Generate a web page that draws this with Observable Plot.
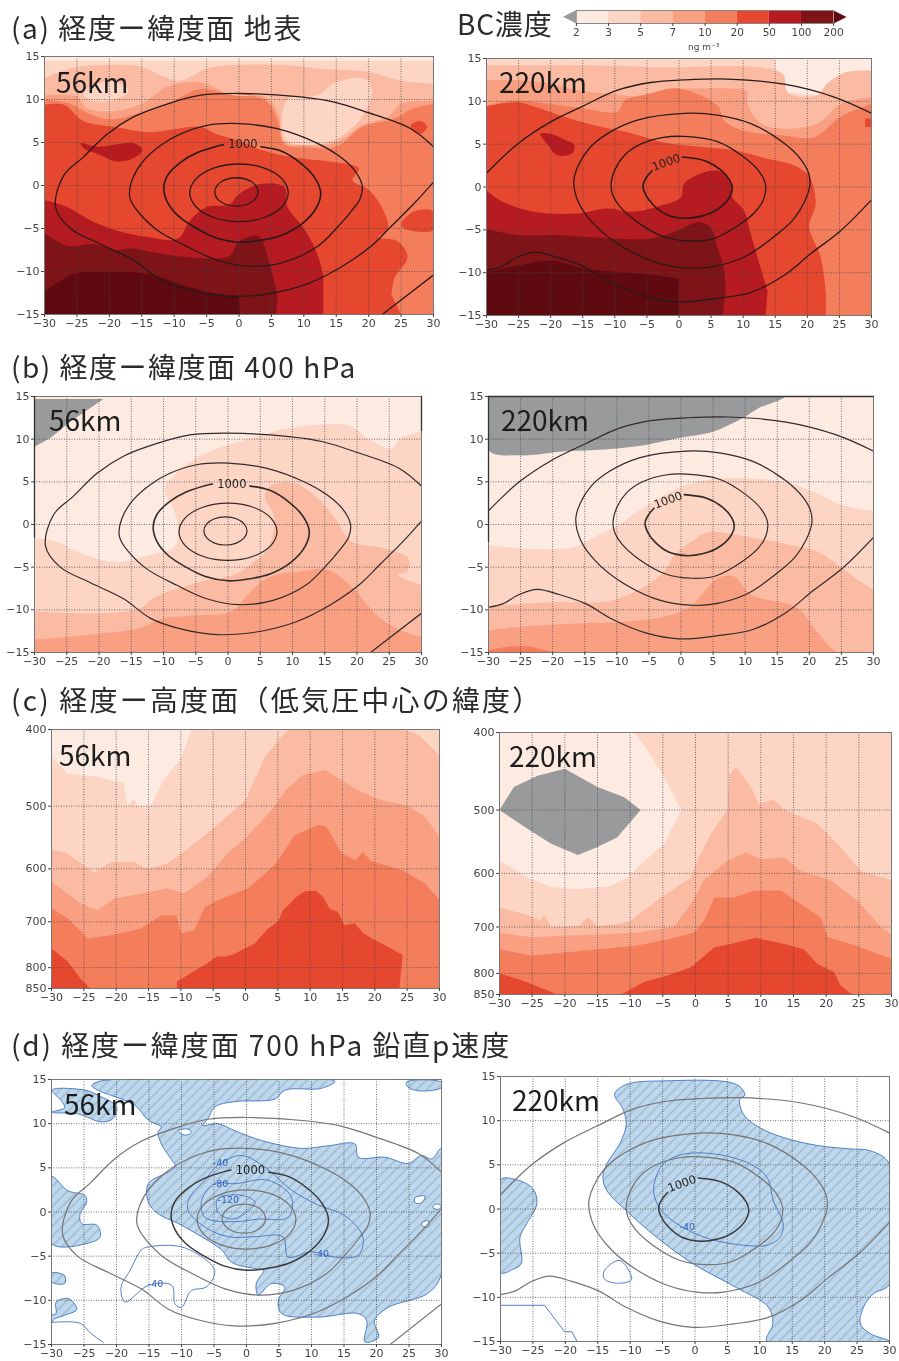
<!DOCTYPE html>
<html lang="ja"><head><meta charset="utf-8">
<script src="https://cdn.jsdelivr.net/npm/d3@7"></script>
<script src="https://cdn.jsdelivr.net/npm/@observablehq/plot@0.6"></script>
<style>
html,body{margin:0;padding:0;background:#fff}
#page{position:relative;width:899px;height:1361px;overflow:hidden;filter:blur(0.5px)}
#page>div.p{position:absolute}
.t{position:absolute;white-space:pre;font-family:"Noto Sans CJK JP";font-size:28px;color:#2b2b2b;line-height:32px}
.n{position:absolute;white-space:pre;font-family:"Noto Sans CJK JP";font-size:28px;color:#1c1c1c;line-height:32px}
svg{display:block}
</style></head><body>
<svg width="0" height="0" style="position:absolute"><defs>
<pattern id="hatch" patternUnits="userSpaceOnUse" width="7" height="7" patternTransform="rotate(45)">
<rect width="7" height="7" fill="#bcd8ef"/><line x1="1" y1="0" x2="1" y2="7" stroke="#9dadb9" stroke-width="1.1"/></pattern>
</defs></svg>
<div id="page"></div>
<script>
/* colour levels */
const levelGray="#999a9b",level2="#fdebe2",level3="#fdd5c5",level5="#fbbba2",level7="#f9a083",level10="#f47e5c",level20="#e5472f",level50="#b61b21",level100="#7e1418",level200="#5e0a10";
const cbLabels=["2","3","5","7","10","20","50","100","200"];
const cbColors=[level2,level3,level5,level7,level10,level20,level50,level100];

/* sea-level pressure contours, 56 km */
const ring56a=[[2.95,-.75],[2.5,.08],[1.3,.68],[-.4,.9],[-2.1,.68],[-3.3,.08],[-3.75,-.75],[-3.3,-1.58],[-2.1,-2.18],[-.4,-2.4],[1.3,-2.18],[2.5,-1.58]];
const ring56b=[[7.6,-.85],[6.6,.8],[3.8,2.05],[0,2.5],[-3.8,2.05],[-6.6,.8],[-7.6,-.85],[-6.6,-2.5],[-3.8,-3.75],[0,-4.2],[3.8,-3.75],[6.6,-2.5]];
const ring56c=[[3.4,4.5],[6.5,4],[9.5,2.6],[11.6,1],[12.6,-.8],[12,-2.5],[9.8,-4.4],[6.5,-5.8],[3,-6.4],[0,-6.6],[-3.5,-6.1],[-6.5,-5],[-9.3,-3.6],[-11,-2],[-11.6,-.4],[-11,1.2],[-9,2.7],[-6.5,3.8],[-3.3,4.6],[-2.4,4.75]];
const ring56d=[[-16.9,-1.1],[-16.4,.8],[-14.8,2.8],[-12,4.7],[-9,6],[-4.9,7],[0,7.2],[5.9,6.6],[12.1,4.9],[15.5,3.4],[17.8,1.8],[19,0],[18.7,-1.5],[17.3,-3],[15,-5],[12.1,-7.1],[7,-8.9],[1.8,-9.4],[-3.3,-8.7],[-8,-7.1],[-12.6,-5.2],[-15.4,-3.2],[-16.6,-1.9]];
const ring56e=[[30,4.5],[26.5,6.6],[19.8,8.5],[14.7,9.7],[9.5,10.3],[0,10.7],[-5.9,10.5],[-11,9.5],[-16.2,8],[-20.3,6],[-24,3.3],[-27,1.2],[-28.3,-2.5],[-26,-5],[-21.4,-6.8],[-16.2,-8.7],[-12,-11],[-7.5,-12.2],[-1.8,-12.9],[4.4,-12.6],[10.6,-11.4],[15.7,-9.5],[20.3,-7.1],[23.4,-4.8],[27,-2.1],[30,.4]];
const ring56f=[[22.1,-15],[30,-10.4]];
/* sea-level pressure contours, 220 km */
const ring220a=[[.5,3.5],[3.9,3.1],[6.5,2],[7.9,.8],[8.3,-.2],[7.7,-1.4],[5.8,-2.7],[3.5,-3.4],[.8,-3.65],[-2,-3.2],[-4,-2.1],[-5.2,-.9],[-5.6,.2],[-5,1.2],[-4.2,1.9]];
const ring220b=[[-10.6,.2],[-10,2],[-8.5,3.7],[-6,5],[-2.4,5.8],[.8,5.9],[6,5.3],[10.1,3.5],[12.5,1.8],[13.5,.2],[13.2,-1.4],[12,-2.8],[9.6,-4.3],[5.5,-6],[1.8,-6.3],[-2.4,-5.8],[-6.5,-4.1],[-9.2,-2.3],[-10.3,-1]];
const ring220c=[[-16.4,.6],[-15.7,2.5],[-14,4.5],[-11.2,6.2],[-6.5,7.8],[.8,8.6],[6,8.4],[11.2,7.4],[16.4,5.1],[19,3.2],[20.2,1.6],[20.4,.2],[19.5,-1.8],[17.8,-3.8],[15.3,-5.5],[10.1,-8.2],[4.4,-9.4],[.3,-9.4],[-4.4,-8.6],[-9.6,-6.6],[-13.3,-4.3],[-15.6,-1.9]];
const ring220d=[[-30,1.6],[-25.2,5],[-20,7.6],[-14.8,9.5],[-9.6,11.3],[-4.4,12.2],[.8,12.5],[7.5,12.6],[16.4,12],[24.2,10.5],[30,8.6]];
const ring220e=[[-30,-9.7],[-27.8,-9.3],[-25.2,-8.2],[-22.4,-7.6],[-19,-8.2],[-14.8,-9.3],[-10.7,-11.1],[-5.5,-12.7],[-.3,-13.4],[6,-13],[11.2,-12.3],[16.4,-10.3],[20.5,-7.8],[25.2,-5.1],[30,-1.5]];

/* (a) 56 km bands */
const fullLat=[[-30,15],[30,15],[30,-15],[-30,-15]];
const topStrip=[[-30,15],[30,15],[30,14.5],[-30,14.5]];
const a56_5=[[-30,12.5],[-26,13.6],[-21,14],[-15,13.8],[-12,12.8],[-9,12.2],[-5,13.6],[-1,14],[7,14],[12,13.6],[20,13.2],[25,12.2],[30,11.8],[30,-15],[-30,-15]];
const a56_lightA=[[-24,10.5],[-23,11.5],[-19,12],[-17,11],[-19,10],[-22,9.8]];
const a56_lightB=[[7.5,10],[12,10.5],[15,12],[19.5,12.4],[20.5,11],[19,8],[15,5.4],[10,4.7],[7,5.5]];
const a56_7=[[-30,10.5],[-25,10.3],[-23.5,9],[-20,8.6],[-15,9.5],[-11,11.5],[-6,12],[-1,10.5],[4,10.3],[6,8.5],[7,5],[10,4.7],[15,5],[19,7],[23,8],[25,9.5],[30,9.8],[30,-15],[-30,-15]];
const a56_10=[[-30,10],[-26,9.5],[-23,8.3],[-20,7.7],[-15,8.5],[-11,9.5],[-6,11.2],[-1,10.5],[4,10],[6,7.5],[7,4.8],[10,4.5],[15,4.5],[19,6.8],[24,7.8],[27,9],[30,9.5],[30,-15],[-30,-15]];
const a56_20=[[-30,9.4],[-27,9.4],[-24,7.5],[-19,6.8],[-14,6.2],[-6,6.8],[-3.5,6],[0,5.2],[4,4],[9,3.2],[14,2.8],[18.5,2],[17.5,.6],[20,-.5],[22,-2.5],[23,-5],[21.5,-6],[24.5,-6.5],[26,-8.3],[24,-10.7],[23.5,-12.7],[25,-15],[-30,-15]];
const a56_20b=[[30,-3],[27,-3],[25,-4.5],[25.5,-5],[30,-5.2]];
const a56_20c=[[26.5,7],[28,7.5],[29,6.8],[28,6],[27,6.2]];
const a56_50=[[-30,-1.7],[-26.5,-2.5],[-23,-4],[-19,-5.2],[-14,-6],[-9.5,-6.2],[-7.5,-4],[-5,-2.5],[-1.5,-2.2],[0,-1],[3.5,.2],[7,-.2],[7.5,-2.5],[10,-5],[12,-7.8],[13,-10.5],[13,-15],[-30,-15]];
const a56_50b=[[-24.4,4.9],[-21.9,4.5],[-16.2,4.9],[-14.9,4.1],[-16.2,3.2],[-18.8,2.8],[-21.9,3.7],[-23.9,4.3]];
const a56_100=[[-30,-5.5],[-26.5,-7],[-22.5,-6.8],[-19,-7.5],[-17,-7.3],[-11.5,-8],[-6.5,-8.4],[-1.5,-8.2],[0,-6.5],[3,-5.9],[4.7,-9],[6,-13],[5.7,-15],[-30,-15]];
const a56_200=[[-30,-12.4],[-25.5,-10.3],[-21.5,-10],[-14,-10.3],[-9,-11.5],[-4,-12.5],[0,-12.8],[.2,-15],[-30,-15]];
/* (a) 220 km bands */
const a220_light=[[15,15],[15,13.5],[17,11],[21.6,10.7],[23,12],[26,13.4],[30,13.6],[30,15]];
const a220_5=[[-30,14.2],[-15,14.2],[-4.4,14],[16,13.3],[17,11],[21.6,10.7],[23,12],[26,13.4],[30,13.6],[30,-15],[-30,-15]];
const a220_7=[[-30,12.5],[-22,12.3],[-15,11.2],[-10,10.8],[-7.5,10.6],[-4,11],[0,11.5],[3,11.5],[8,11.5],[10.5,11.2],[10.7,9.7],[12.8,7.4],[16.4,6.8],[21.6,7.4],[25.2,9.7],[30,10.5],[30,-15],[-30,-15]];
const a220_10=[[-30,9.5],[-25.7,10.1],[-20,9.7],[-15,9.2],[-9.6,8.8],[-8.5,10.1],[-5.4,10.7],[-.3,11.5],[6,9.5],[7,7.8],[10,6.6],[16.4,6],[21,5.8],[25.2,8.2],[30,9.7],[30,-15],[-30,-15]];
const a220_20=[[-30,9.4],[-25.2,9.9],[-22.6,9.4],[-17.9,8.2],[-13.2,7.2],[-7,6.2],[-1.8,5.1],[3.4,4.7],[8.6,4.3],[13.8,3.3],[18,2.5],[20.3,1.2],[21.3,-1.9],[20.3,-4.7],[22.1,-8.2],[22.9,-12.5],[22.9,-15],[-30,-15]];
const a220_20b=[[29,8],[30,8],[30,7],[29,7]];
const a220_50=[[-30,-.4],[-27.8,-1.6],[-22.6,-2.9],[-15.9,-3.1],[-11.2,-2.5],[-7.5,-2.9],[-3.4,-2.3],[.3,-1.2],[.8,.4],[4.4,1.8],[6.5,1.8],[8,.4],[8.3,-1.2],[10.1,-2.7],[11.2,-5.5],[12.7,-9.4],[13.8,-12.1],[13.5,-15],[-30,-15]];
const a220_50b=[[-21.6,6.2],[-20,6.2],[-17.7,5.5],[-16.3,4.9],[-16.7,3.9],[-19,3.7],[-20.5,5]];
const a220_100=[[-30,-4.9],[-25.2,-5.6],[-19,-5.6],[-10.6,-6],[-4.4,-6],[-.3,-5.1],[3.1,-4.1],[4.9,-4.7],[6,-7],[7,-9.4],[7.3,-12.1],[6.8,-15],[-30,-15]];
const a220_200=[[-30,-9.9],[-25.2,-9.2],[-20,-8.6],[-14.8,-9.5],[-9.6,-9.9],[-3.4,-10.3],[0,-10.7],[0,-15],[-30,-15]];
/* (b) 56 km bands */
const b56_gray=[[-30,14.7],[-19.3,14.7],[-24.2,12.2],[-27.6,10.1],[-30,9.1]];
const b56_3=[[-30,-1.6],[-26.5,-2],[-22.8,-3.4],[-17.2,-4.4],[-12.4,-3.6],[-8.3,-2.6],[-7.8,-.1],[-8.5,1.9],[-9.8,4.2],[-8.3,5.8],[-5.2,7.7],[-1.6,8.9],[3.6,10.1],[8.8,11.2],[18.6,11.6],[21.7,10.1],[25.3,8.9],[26.8,10.1],[30,10.9],[30,-15],[-30,-15]];
const b56_5=[[-30,-10.2],[-19.8,-10.4],[-13.6,-9.8],[-11.6,-8.6],[-4.2,-6.7],[1,-5.9],[4,-4.4],[6.2,-2.8],[7.2,.7],[5.7,3.4],[6.7,4.6],[10.4,4.8],[14,3],[16.6,.7],[19.2,-2],[24.3,-2.8],[28,-4],[27.8,-5.5],[26.3,-5.9],[30,-7.1],[30,-15],[-30,-15]];
const b56_7=[[-30,-13.5],[-24,-13.1],[-13.6,-12.1],[-10.5,-11.1],[-6.4,-10.7],[.5,-10.2],[3.1,-8.2],[6.2,-6.2],[11.4,-5.5],[15.5,-5.3],[19.2,-7.3],[23.3,-10.8],[26.8,-12.4],[30,-13.2],[30,-15],[-30,-15]];
const b56_spineL=[[-30,15],[-30,-1.5]];
const b56_spineR=[[30,15],[30,11]];
/* (b) 220 km bands */
const b220_gray=[[-30,15],[16.1,15],[12,13.6],[9.9,12.6],[7.3,11.6],[4.7,10.8],[-.5,10.1],[-5.7,9.3],[-12,8.8],[-17.7,8.6],[-25,8.1],[-30,8.7]];
const b220_3=[[-30,-2.4],[-22.9,-2.9],[-16.6,-2.6],[-13,-1.3],[-9.4,.1],[-6.8,1.5],[-3.6,3],[.5,4.6],[5.7,5.4],[10.9,5.4],[16.1,5],[20.8,3.8],[25,2.3],[30,1.6],[30,-15],[-30,-15]];
const b220_5=[[-30,-9.6],[-20.3,-9.1],[-16.1,-9.1],[-10.9,-8.9],[-5.7,-7.3],[-2.6,-5.5],[-1,-3.6],[1.6,-2],[4.2,-.9],[9.9,-1.4],[17.2,-2.4],[21.4,-3.2],[26.5,-5.9],[30,-7.7],[30,-15],[-30,-15]];
const b220_7=[[-30,-12.4],[-25.5,-12],[-16.1,-11.6],[-8.8,-11.4],[-1.6,-10.6],[1.6,-9.5],[5.7,-6.3],[8.3,-6.1],[10.9,-8.2],[18.2,-9.8],[20.8,-12.2],[22.9,-14.1],[24.2,-15],[-30,-15]];
const b220_10=[[-30,-14.7],[-26.5,-14.3],[-23.4,-14.3],[-19.8,-15],[-30,-15]];
const b220_spineT=[[-30,15],[30,15]];
const b220_spineL=[[-30,15],[-30,-2]];
/* (c) 56 km bands: longitude, pressure */
const fullP=[[-30,400],[30,400],[30,850],[-30,850]];
const c56_3=[[-30,433],[-27.5,455],[-23.4,458],[-18.8,468],[-18.3,500],[-17.2,489],[-16.7,500],[-14.7,500],[-12.6,462],[-10.1,437],[-8.5,403],[-8.5,400],[30,400],[30,850],[-30,850]];
const c56_5=[[-30,567],[-27.5,574],[-23.4,607],[-20.8,588],[-17.2,588],[-15.1,601],[-12,590],[-9.9,574],[-4.7,531],[0,491],[3,433],[5.6,408],[6.7,400],[24.7,400],[27,408],[30,431],[30,850],[-30,850]];
const c56_7=[[-30,623],[-25.5,663],[-22.9,677],[-20.3,654],[-15.7,644],[-12,635],[-9.5,644],[-5.9,614],[-2.8,574],[0,549],[4,506],[6.2,477],[8.8,457],[12.3,450],[16.5,473],[20.1,489],[25.2,500],[27.8,516],[30,547],[30,850],[-30,850]];
const c56_10=[[-30,673],[-27.5,693],[-24.4,735],[-20.3,727],[-16.2,714],[-13,687],[-10.7,687],[-9.9,724],[-7.9,717],[-6.3,670],[-4.2,657],[.4,635],[4.5,594],[7.6,544],[11.2,528],[12.5,530],[14.9,574],[17,585],[18.2,571],[19.3,586],[24.2,602],[27.8,626],[30,657],[30,850],[-30,850]];
const c56_20=[[-10.6,850],[-10.6,833],[-5.9,790],[-4.4,774],[-3.2,775],[-1.6,768],[-.1,756],[1.4,746],[3.5,714],[5,700],[5.8,677],[6.6,667],[7.9,651],[9.1,641],[10.9,639],[12,651],[13,674],[14.3,680],[15.3,707],[16.9,703],[18.2,724],[20,738],[22,753],[24.3,771],[23.8,850]];
const c56_20b=[[-30,756],[-27.5,786],[-25.5,826],[-24,850],[-30,850]];
/* (c) 220 km bands */
const c220_gray=[[-30,500],[-27.8,468],[-24.2,453],[-20,444],[-15,468],[-10.9,482],[-8.4,500],[-12,541],[-15,556],[-18,569],[-22.1,551],[-25.2,531]];
const c220_3=[[-9.4,400],[-7.3,422],[-4.8,455],[-2.2,500],[-4.8,551],[-8.9,590],[-10.4,607],[-13,622],[-18,628],[-22.1,624],[-25.7,607],[-30,578],[-30,850],[30,850],[30,400]];
const c220_5=[[-30,662],[-25.7,676],[-23.7,687],[-23.2,676],[-22.1,700],[-17.8,698],[-16.5,680],[-15,698],[-11.9,694],[-9.9,687],[-5.3,643],[-.7,607],[.3,578],[2.3,536],[4.9,500],[5.2,451],[6.2,442],[8.5,468],[9.7,491],[12,485],[13.6,500],[18.7,520],[22.2,556],[25.3,596],[30,612],[30,850],[-30,850]];
const c220_7=[[-30,711],[-25.2,721],[-20,718],[-15,715],[-8.9,711],[-3.3,700],[-.7,655],[1.3,612],[4.9,578],[7.7,565],[10,576],[13.6,573],[16.1,596],[20.7,612],[24.8,649],[28.4,700],[30,715],[30,850],[-30,850]];
const c220_10=[[-30,746],[-25.2,760],[-20,753],[-15,746],[-8.9,738],[-3.8,724],[-.2,711],[1.3,687],[2.9,643],[5.9,643],[9,630],[13.1,630],[16.1,655],[19.2,681],[20.2,721],[23.8,735],[30,767],[30,850],[-30,850]];
const c220_20=[[-11.4,850],[-7.9,820],[-4.3,805],[-.7,786],[2.9,742],[5.4,735],[9.2,722],[13.6,735],[16.6,746],[18.7,779],[21.2,797],[22.2,828],[24,850]];
const c220_20b=[[-30,800],[-27.2,813],[-25.2,824],[-21.1,850],[-30,850]];
/* (d) 56 km omega areas */
const d56_main=[[-23.8,14.3],[-22.6,14.8],[13.6,14.8],[11.5,14],[5.9,13.8],[4.4,12.8],[-1.8,12.5],[-4.9,11.9],[-5.9,10.6],[-6.7,9.8],[-4.4,10],[-1.8,9.2],[2.3,8.1],[8.5,7.2],[12.6,7.5],[16.7,7.7],[17.2,6.2],[21.3,6.2],[24.9,5.5],[26.9,6.4],[28.5,6],[30,7.2],[30,-7],[27.9,-9.2],[21.8,-10.8],[19.7,-12.3],[20.3,-14.2],[18.2,-14.7],[18.5,-12.3],[17.2,-11.5],[11,-11.9],[5.4,-11.5],[4.9,-10],[5.9,-8.5],[3.8,-8.1],[1.8,-9.4],[1.5,-8.1],[2.6,-6.6],[1.3,-6.4],[-2.3,-5.7],[-3.8,-4.3],[-6.9,-2.8],[-10.5,-1.3],[-13.6,-.2],[-15.1,1.1],[-15.1,3.2],[-11,5.1],[-11.8,6.2],[-13.1,7.7],[-13.6,9.1],[-13.1,9.6],[-15.1,10.4],[-17.2,12.1],[-20.8,13.2],[-22.3,13.6]];
const d56_topLeft=[[-29.9,13.8],[-24.9,13.8],[-22.8,13.2],[-20,11.9],[-20.5,10.6],[-22.3,10.2],[-25.9,11.1],[-30,11.3],[-28,11.8],[-28.5,12.6]];
const d56_left=[[-30,4],[-27.5,2.4],[-24.9,1.9],[-24.6,1.1],[-25.6,-.2],[-25.4,-1.3],[-23,-1.5],[-22.5,-2.8],[-23.8,-3.4],[-30,-3.6]];
const d56_small=[[-30,-6.9],[-28,-7.2],[-28,-8.1],[-30,-7.9]];
const d56_blob=[[-29.3,-10.2],[-27.4,-9.8],[-26.1,-11],[-28,-11.7],[-29.5,-12.1],[-30,-12.5],[-30,-11.7],[-29.3,-11.5]];
const d56_topRight=[[24.6,14.7],[30,14.7],[30,14.1],[26.9,13.7],[24.9,14.1]];
const d56_holeA=[[-10.5,9.2],[-9,9.4],[-8.5,9],[-9.5,8.7]];
const d56_holeB=[[25.9,1.6],[27.5,1.8],[27,1.1],[26,1]];
const d56_holeC=[[29,.9],[30,.7],[29.5,.3],[28.7,.5]];
const d56_holeD=[[27,-1.2],[28,-1],[28,-1.6],[27,-1.6]];
const d56_loop=[[-15.4,-4],[-9.7,-4],[-4.9,-6.6],[-6.2,-8.5],[-8.5,-8.9],[-10,-10.8],[-11,-10.4],[-11.5,-8.3],[-15.1,-8.3],[-18.7,-10.2],[-19.3,-8.5],[-17.9,-6.6],[-16.2,-4.3]];
const d56_tail=[[-30,-12.5],[-25.6,-12.6],[-24,-13.7],[-22,-14.8]];
const d56_m40=[[-9,.2],[-8.7,1.7],[-6.4,3.6],[-4.4,5.3],[-.8,6.4],[2.8,5.1],[6.9,2.5],[11,.8],[15.1,-.4],[17.9,-2.8],[17.2,-4.9],[13.6,-5.1],[10,-4.5],[6.4,-5.1],[5.6,-2.8],[1.3,-2.8],[-2.8,-2.8],[-6.4,-1.7]];
const d56_m80=[[-4.9,3.2],[-1.8,3.2],[3.3,3.6],[6.9,1.7],[6.4,-.6],[1.8,-.8],[-1.8,-1.1],[-6.4,-.6],[-6.9,1.3]];
const d56_m120=[[-4.4,1.5],[-.8,1.9],[1.3,1.1],[-.3,-.2],[-2.3,-.8],[-4.4,0]];
const d56_labels=[{x:-4,y:5.6,t:"-40"},{x:-4,y:3.2,t:"-80"},{x:-2.8,y:1.4,t:"-120"},{x:11.5,y:-4.7,t:"-40"},{x:-14,y:-8.2,t:"-40"}];
/* (d) 220 km omega areas */
const d220_main=[[-12.4,13],[-10.6,14.1],[-4.9,14.5],[6.4,14.1],[7.7,12.9],[6.9,12.4],[7.5,10.7],[10,9.2],[13.6,8.1],[18.8,7.2],[23.9,6.8],[27,6.6],[30,5.1],[30,-8.5],[27.5,-9.6],[26,-11.1],[25.5,-13],[27,-14.1],[30,-15],[11.1,-15],[12,-13],[11.3,-11.1],[6.4,-8.9],[-.3,-6.2],[-5.9,-3.2],[-10.6,-.2],[-13.6,2.1],[-14.2,3.6],[-13.6,5.1],[-11.6,7.4],[-10.6,9.6],[-11.1,11.3]];
const d220_left=[[-30,3.3],[-27.5,3.3],[-25,2.3],[-24.4,.6],[-26,-1.7],[-27,-3.2],[-26.8,-6.2],[-28,-6.8],[-30,-7.2]];
const d220_loop=[[-14,-7],[-11.8,-5.8],[-10.8,-6.3],[-9.8,-8],[-12.1,-8.4],[-14,-7.9]];
const d220_tail=[[-30,-10.9],[-23.2,-10.9],[-20.1,-13.9],[-19,-13.9],[-18.2,-15]];
const d220_m40=[[-6.3,2.8],[-4.9,5.1],[-1.8,6.2],[3.3,6.2],[8.5,5.1],[11.1,3.6],[12.1,.9],[13.6,-1.7],[13.1,-3.2],[11.1,-4.1],[7.5,-4.1],[2.3,-3.4],[-1.8,-2.1],[-4.9,-.4],[-6.2,1.3]];
const d220_labels=[{x:-1.2,y:-2,t:"-40"}];
/* axes */
const lonTicks=[-30,-25,-20,-15,-10,-5,0,5,10,15,20,25,30];
const latTicks=[-15,-10,-5,0,5,10,15];
const pTicks=[400,500,600,700,800,850];
const pGrid=[500,600,700,800];
const label1000_56={x:.6,y:4.75,rotate:0};
const label1000_220={x:-2,y:2.85,rotate:-20};

const minus=d=>String(d).replace("-","\u2212");
/* fills: smooth boundary, straight closing run along the bottom of the frame */
function smoothFill(k){return ctx=>{let pts;return{areaStart(){},areaEnd(){},lineStart(){pts=[]},point(x,y){pts.push([+x,+y])},lineEnd(){
  if(k===0){d3.line().curve(d3.curveCatmullRomClosed).context(ctx)(pts);return;}
  d3.line().curve(d3.curveCatmullRom).context(ctx)(pts.slice(0,pts.length-k));
  pts.slice(-k).forEach(p=>ctx.lineTo(p[0],p[1]));ctx.closePath();}};};}
function trailing(a){let k=0;for(let i=a.length-1;i>=0&&a[i][1]===-15;i--)k++;return k;}
const poly=(a,fill,extra={})=>Plot.line(a,{x:d=>d[0],y:d=>d[1],fill,stroke:"none",...extra});
const polyS=(a,fill,extra={})=>poly(a,fill,{curve:smoothFill(trailing(a)),clip:true,...extra});
const line=(a,stroke,w,curve)=>Plot.line(a,{x:d=>d[0],y:d=>d[1],stroke,strokeWidth:w,curve,clip:true});
const page=document.getElementById("page");
function place(node,left,top){const d=document.createElement("div");d.className="p";d.style.left=left+"px";d.style.top=top+"px";d.appendChild(node);page.appendChild(d);}
function contours(km,col,thin,thick,thickCol){
  const tc=thickCol||col;
  const lab=km===56?label1000_56:label1000_220;
  const out=km===56
   ?[line(ring56a,col,thin,"catmull-rom-closed"),line(ring56b,col,thin,"catmull-rom-closed"),line(ring56c,tc,thick,"catmull-rom"),line(ring56d,col,thin,"catmull-rom-closed"),line(ring56e,col,thin,"catmull-rom"),line(ring56f,col,thin,"linear")]
   :[line(ring220a,tc,thick,"catmull-rom"),line(ring220b,col,thin,"catmull-rom-closed"),line(ring220c,col,thin,"catmull-rom-closed"),line(ring220d,col,thin,"catmull-rom"),line(ring220e,col,thin,"catmull-rom")];
  out.push(Plot.text([lab],{x:"x",y:"y",rotate:"rotate",text:()=>"1000",fill:"#222",fontSize:11.5}));
  return out;
}
function panel({l,r,t,b,layers,top,after,log}){
  const mL=36,mR=14,mT=6,mB=22;
  const grid=[Plot.ruleX(lonTicks.slice(1,-1),{stroke:"#444",strokeOpacity:.75,strokeDasharray:"1,1.5",strokeWidth:1}),
    Plot.ruleY(log?pGrid:latTicks.slice(1,-1),{stroke:"#444",strokeOpacity:.75,strokeDasharray:"1,1.5",strokeWidth:1})];
  const fig=Plot.plot({width:r-l+mL+mR,height:b-t+mT+mB,marginLeft:mL,marginRight:mR,marginTop:mT,marginBottom:mB,
    style:{fontFamily:"DejaVu Sans",fontSize:"11px",color:"#444",background:"transparent",maxWidth:"none"},
    x:{domain:[-30,30]},
    y:log?{type:"log",domain:[850,400]}:{domain:[-15,15]},
    marks:[...layers,...grid,...(top||[]),
      Plot.frame({stroke:"#777"}),...(after||[]),
      Plot.axisX(lonTicks,{tickSize:3,tickPadding:2,tickFormat:minus,label:null}),
      Plot.axisY(log?pTicks:latTicks,{tickSize:3,tickPadding:2,tickFormat:minus,label:null})]});
  place(fig,l-mL,t-mT);
}
const bands=list=>list.map(([a,c,flat])=>flat?poly(a,c):polyS(a,c));
const spine=a=>Plot.line(a,{x:d=>d[0],y:d=>d[1],stroke:"#333",strokeWidth:1.3});

const cAdark="#2a1a1a",cBdark="#332a2a";
panel({l:44,r:433,t:56,b:314,layers:bands([[fullLat,level3,1],[topStrip,level2,1],[a56_5,level5],[a56_lightA,level3],[a56_lightB,level3],[a56_7,level7],[a56_10,level10],[a56_20,level20],[a56_20b,level20],[a56_20c,level20],[a56_50,level50],[a56_50b,level50],[a56_100,level100],[a56_200,level200]]),top:contours(56,cAdark,1.3,1.6)});
panel({l:486,r:871,t:58,b:315,layers:bands([[fullLat,level3,1],[a220_light,level2,1],[a220_5,level5],[a220_7,level7],[a220_10,level10],[a220_20,level20],[a220_20b,level20,1],[a220_50,level50],[a220_50b,level50],[a220_100,level100],[a220_200,level200]]),top:contours(220,cAdark,1.3,1.6)});
panel({l:34,r:421,t:396,b:652,layers:bands([[fullLat,level2,1],[b56_gray,levelGray,1],[b56_3,level3],[b56_5,level5],[b56_7,level7]]),top:contours(56,cBdark,1.2,1.6),after:[spine(b56_spineL),spine(b56_spineR)]});
panel({l:488,r:873,t:396,b:652,layers:bands([[fullLat,level2,1],[b220_gray,levelGray],[b220_3,level3],[b220_5,level5],[b220_7,level7],[b220_10,level10]]),top:contours(220,cBdark,1.2,1.6),after:[spine(b220_spineT),spine(b220_spineL)]});
panel({l:51,r:439,t:729,b:988,log:true,layers:bands([[fullP,level2,1],[c56_3,level3,1],[c56_5,level5,1],[c56_7,level7,1],[c56_10,level10,1],[c56_20,level20,1],[c56_20b,level20,1]])});
panel({l:499,r:891,t:732,b:994,log:true,layers:bands([[fullP,level2,1],[c220_gray,levelGray,1],[c220_3,level3,1],[c220_5,level5,1],[c220_7,level7,1],[c220_10,level10,1],[c220_20,level20,1],[c220_20b,level20,1]])});

const blueEdge="#4f7fc8";
const hatch=a=>polyS(a,"url(#hatch)",{stroke:blueEdge,strokeWidth:1});
const hole=a=>polyS(a,"#fff",{stroke:blueEdge,strokeWidth:1});
const blue=a=>line(a,blueEdge,1,"catmull-rom");
const blueC=a=>line(a,blueEdge,1,"catmull-rom-closed");
const bluetext=a=>Plot.text(a,{x:"x",y:"y",text:"t",fill:"#2f62c0",fontSize:9.5});
panel({l:51,r:441,t:1079,b:1344,
  layers:[d56_main,d56_topLeft,d56_left,d56_small,d56_blob,d56_topRight].map(hatch).concat([d56_holeA,d56_holeB,d56_holeC,d56_holeD].map(hole)),
  top:[...[d56_loop,d56_m40,d56_m80,d56_m120].map(blueC),blue(d56_tail),...contours(56,"#757575",1.2,1.5,"#3a3a3a"),bluetext(d56_labels)]});
panel({l:500,r:889,t:1076,b:1341,
  layers:[d220_main,d220_left].map(hatch),
  top:[...[d220_loop,d220_m40].map(blueC),line(d220_tail,blueEdge,1,"linear"),...contours(220,"#757575",1.2,1.5,"#3a3a3a"),bluetext(d220_labels)]});

/* colour bar */
const cbFig=Plot.plot({width:299,height:42,marginLeft:8,marginRight:8,marginTop:10,marginBottom:19,
  style:{fontFamily:"DejaVu Sans",fontSize:"10.5px",color:"#444",background:"transparent",maxWidth:"none"},
  x:{domain:[-.4,8.4]},y:{domain:[0,1],axis:null},
  marks:[...cbColors.map((c,i)=>Plot.rectY([{a:i,b:i+1}],{x1:"a",x2:"b",y1:0,y2:1,fill:c})),
    poly([[0,0],[0,1],[-.4,.5]],levelGray,{stroke:"#888",strokeWidth:.7}),
    poly([[8,0],[8,1],[8.4,.5]],level200),
    Plot.line([[0,1],[8,1]],{x:d=>d[0],y:d=>d[1],stroke:"#888",strokeWidth:1}),
    Plot.line([[0,0],[8,0]],{x:d=>d[0],y:d=>d[1],stroke:"#888",strokeWidth:1}),
    Plot.axisX(d3.range(9),{tickSize:3,tickPadding:2,tickFormat:i=>cbLabels[i],label:null})]});
place(cbFig,555,0);
function txt(cls,s,left,cy,ls){const d=document.createElement("div");d.className=cls;d.textContent=s;d.style.left=left+"px";d.style.top=(cy-16)+"px";if(ls)d.style.letterSpacing=ls+"px";page.appendChild(d);}
txt("t","(a) 経度ー緯度面 地表",11,27,1.6);
txt("t","BC濃度",457,23,.8);
txt("t","(b) 経度ー緯度面 400 hPa",11,366,1.5);
txt("t","(c) 経度ー高度面（低気圧中心の緯度）",11,699,2.2);
txt("t","(d) 経度ー緯度面 700 hPa 鉛直p速度",11,1044,1.9);
[["56km",56,81],["220km",499,81],["56km",49,419],["220km",501,419],["56km",59,754],["220km",509,755],["56km",64,1103],["220km",512,1099]].forEach(([s,x,y])=>txt("n",s,x,y));
const u=document.createElement("div");u.textContent="ng m\u207B\u00B3";u.style.cssText="position:absolute;left:688px;top:42px;font:9px 'DejaVu Sans';color:#444;white-space:pre";page.appendChild(u);
</script></body></html>
